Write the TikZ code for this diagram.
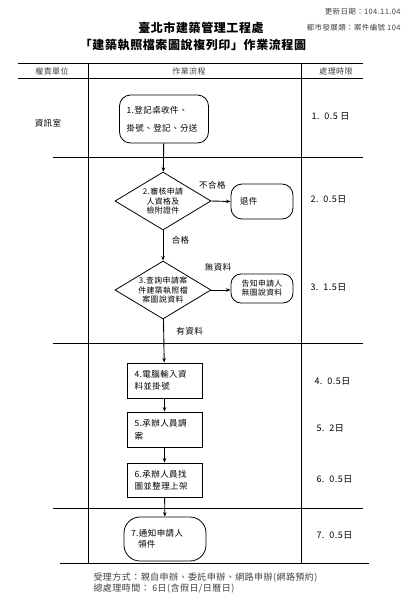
\documentclass[tikz,border=0pt]{standalone}
\usepackage{fontspec}
\newfontfamily\cjk[LetterSpace=5]{Noto Sans CJK TC}
\usetikzlibrary{positioning}
\usetikzlibrary{arrows.meta}
\usetikzlibrary{shapes.geometric}

\begin{document}
\begin{tikzpicture}[x=1pt, y=-1pt,
  >={Stealth[length=4.5pt, width=3.5pt]},
  every node/.style={font=\cjk\fontsize{8.5}{12}\selectfont},
  terminal/.style={rectangle, draw, line width=0.8pt, rounded corners=11pt, align=left, inner sep=0pt},
  process/.style={rectangle, draw, line width=0.8pt, align=left, inner ysep=0pt, inner xsep=7.5pt,
    text width=60pt, minimum height=35pt},
  decision/.style={diamond, draw, line width=0.8pt, aspect=1.65, inner sep=-4pt, minimum width=96pt,
    minimum height=58pt, align=center, font=\cjk\fontsize{7.9}{9.2}\selectfont},
  flow/.style={->, line width=0.9pt},
  grid/.style={line width=0.7pt},
  limit/.style={anchor=west, font=\cjk\fontsize{9}{11}\selectfont}
]
\useasboundingbox (0,0) rectangle (419,600);

% Heading
\node[anchor=east, font=\cjk\fontsize{7.5}{9}\selectfont, text=black!75] (update) at (404,12) {更新日期：104.11.04};
\node[anchor=east, font=\cjk\fontsize{7.5}{9}\selectfont, text=black!75] (caseno) at (404,28) {都市發展類：案件編號 104};
\node[font=\cjk\fontsize{12}{14}\selectfont\bfseries] (office) at (201,28) {臺北市建築管理工程處};
\node[font=\cjk\fontsize{12}{14}\selectfont\bfseries] (title) at (193,45) {「建築執照檔案圖說複列印」作業流程圖};

% Table
\draw[grid] (18,63) -- (363,63);
\draw[grid] (18,78) -- (363,78);
\draw[grid] (53,157) -- (363,157);
\draw[grid] (53,343) -- (363,343);
\draw[grid] (53,508) -- (363,508);
\draw[grid] (60,563) -- (369,563);
\draw[grid] (88,63) -- (88,563);
\draw[grid] (301,63) -- (301,563);

\node[font=\cjk\fontsize{8}{10}\selectfont, text=black!75] (hunit) at (52,71) {權責單位};
\node[font=\cjk\fontsize{8}{10}\selectfont, text=black!75] (hflow) at (189,71) {作業流程};
\node[font=\cjk\fontsize{8}{10}\selectfont, text=black!75] (htime) at (336,71) {處理時限};
\node (unit) at (48,123) {資訊室};

% Steps
\node[terminal, text width=75pt, inner xsep=7pt, minimum height=48pt,
  font=\cjk\fontsize{8.5}{18}\selectfont] (receive) at (164,119) {1.登記桌收件、\\掛號、登記、分送};
\node[decision] (check) at (163,201) {2.審核申請\\人資格及\\檢附證件};
\node[terminal, text width=44pt, inner xsep=9pt, minimum height=35pt] (reject) at (262,201.5) {退件};
\node[decision] (query) at (163,290) {3.查詢申請案\\件建築執照檔\\案圖說資料};
\node[terminal, align=center, minimum width=62pt, minimum height=29pt, rounded corners=10pt,
  font=\cjk\fontsize{7.8}{9}\selectfont] (nodata) at (262,288.5) {告知申請人\\無圖說資料};
\node[process] (input) at (164.5,380.5) {4.電腦輸入資\\料並掛號};
\node[process, font=\cjk\fontsize{8.5}{13}\selectfont] (fetch) at (164.5,429.5) {5.承辦人員調\\案};
\node[process, minimum height=34pt] (shelve) at (164.5,480) {6.承辦人員找\\圖並整理上架};
\node[terminal, text width=68pt, inner xsep=7pt, minimum height=44pt, rounded corners=16pt,
  font=\cjk\fontsize{8.5}{10.5}\selectfont] (notify) at (165,539) {7.通知申請人\\\hspace*{7pt}領件};

% Time limits
\node[limit] (t1) at (308,116) {1.\ \ 0.5 日};
\node[limit] (t2) at (307,199) {2.\ \ 0.5日};
\node[limit] (t3) at (307,287) {3.\ \ 1.5日};
\node[limit] (t4) at (311,381) {4.\ \ 0.5日};
\node[limit] (t5) at (313,428) {5.\ \ 2日};
\node[limit] (t6) at (313,479) {6.\ \ 0.5日};
\node[limit] (t7) at (313,535) {7.\ \ 0.5日};

% Connectors
\draw[flow] (receive) -- (check);
\draw[flow] (check.east) -- (reject.west) node[pos=0.05, above=8pt] {不合格};
\draw[flow] (check) -- node[pos=0.33, right=5pt] {合格} (query);
\draw[flow] (query.east) -- (reject.west |- query.east) node[pos=0.35, above=15pt] {無資料};
\draw[flow] (query) -- node[pos=0.28, right=9pt] {有資料} (input);
\draw[flow] (input) -- (fetch);
\draw[flow] (fetch) -- (shelve);
\draw[flow] (shelve) -- (notify);

% Notes
\node[anchor=west, align=left, text=black!75, font=\cjk\fontsize{9}{11}\selectfont] (notes) at (90,583.5)
  {受理方式：親自申辦、委託申辦、網路申辦(網路預約)\\總處理時間： 6日(含假日/日曆日)};

\end{tikzpicture}
\end{document}
